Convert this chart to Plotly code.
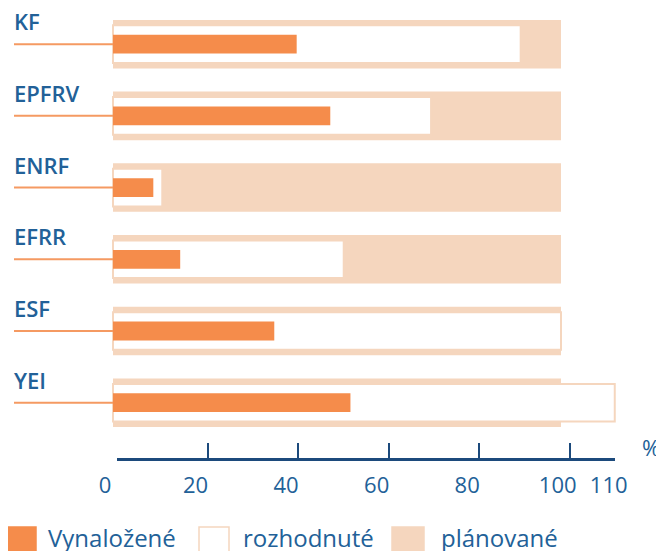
import plotly.graph_objects as go

categories = ["KF", "EPFRV", "ENRF", "EFRR", "ESF", "YEI"]
planovane = [100, 100, 100, 100, 100, 100]
rozhodnute = [91, 71, 11, 51.5, 100, 112]
vynalozene = [41, 48.5, 9, 15, 36, 53]
tick_marks = [20, 40, 60, 80, 100, 110]
tick_labels = [0, 20, 40, 60, 80, 100, 110]
tick_texts = ["0", "20", "40", "60", "80", "100", "\u00a0\u00a0110"]
legend_names = ["Vynaložené", "rozhodnuté", "plánované"]

OFF = 8  # page offset of the figure inside the browser
W, H = 664 - OFF, 551 - OFF
ORANGE = "#F58C4B"
PEACH = "#F5D6BE"
BLUE = "#226198"
AXIS = "#1C4A7C"
FONT = "Open Sans"

def px_x(p):
    return (p - OFF) / W

def px_y(p):
    return 1 - (p - OFF) / H

fig = go.Figure()
fig.add_bar(y=categories, x=planovane, orientation="h", width=0.677,
            marker=dict(color=PEACH, line=dict(width=0)), name=legend_names[2],
            showlegend=False, hoverinfo="skip")
fig.add_bar(y=categories, x=rozhodnute, orientation="h", width=0.525,
            marker=dict(color="white", line=dict(color=PEACH, width=2)), name=legend_names[1],
            showlegend=False, hoverinfo="skip")
fig.add_bar(y=categories, x=vynalozene, orientation="h", width=0.262,
            marker=dict(color=ORANGE, line=dict(width=0)), name=legend_names[0],
            showlegend=False, hoverinfo="skip")

# bar axis: 0 at px 113, 100 at px 561
x_left_px, x_right_px = 100, 640
scale = (561 - 113) / 100
r0 = (x_left_px - 113) / scale
r1 = (x_right_px - 113) / scale

y_top, y_bot = 8.3, 442.7

shapes = []
annotations = []
for c in categories:
    shapes.append(dict(type="line", xref="paper", yref="y", x0=px_x(14), x1=px_x(113),
                       y0=c, y1=c, line=dict(color="#F59A62", width=2), layer="above"))
    annotations.append(dict(xref="paper", yref="y", x=px_x(12), y=c, text=c, showarrow=False,
                            xanchor="left", yanchor="middle", yshift=23,
                            font=dict(family=FONT, size=22, color=BLUE, weight=600)))

annotations.append(dict(xref="paper", yref="paper", x=px_x(640), y=px_y(447), text="%",
                        showarrow=False, xanchor="left", yanchor="middle",
                        font=dict(family=FONT, size=22, color=BLUE)))

legend_items = [
    (legend_names[0], 7, 36, 46, ORANGE, ORANGE),
    (legend_names[1], 199, 229, 241, "white", PEACH),
    (legend_names[2], 392, 424, 439, PEACH, PEACH),
]
for name, sx0, sx1, tx, fill, line in legend_items:
    shapes.append(dict(type="rect", xref="paper", yref="paper", x0=px_x(sx0), x1=px_x(sx1),
                       y0=px_y(565), y1=px_y(527), fillcolor=fill,
                       line=dict(color=line, width=1.5)))
    annotations.append(dict(xref="paper", yref="paper", x=px_x(tx), y=px_y(537), text=name,
                            showarrow=False, xanchor="left", yanchor="middle",
                            font=dict(family=FONT, size=24, color=BLUE)))

axis_y = px_y(458)
fig.update_layout(
    width=W, height=H,
    margin=dict(l=0, r=0, t=0, b=0, pad=0, autoexpand=False),
    paper_bgcolor="white", plot_bgcolor="rgba(0,0,0,0)",
    barmode="overlay",
    showlegend=False,
    xaxis=dict(domain=[px_x(x_left_px), px_x(x_right_px)], range=[r0, r1],
               visible=False, automargin=False, anchor="y"),
    yaxis=dict(domain=[px_y(y_bot), px_y(y_top)], type="category",
               categoryorder="array", categoryarray=categories,
               autorange="reversed", visible=False, automargin=False, anchor="x"),
    xaxis2=dict(domain=[px_x(117), px_x(615)], range=[0, 110], anchor="y2",
                side="bottom", automargin=False,
                showline=True, linecolor=AXIS, linewidth=2.5,
                ticks="inside", ticklen=15, tickwidth=2, tickcolor=AXIS,
                tickvals=tick_marks, showticklabels=False,
                showgrid=False, zeroline=False),
    yaxis2=dict(domain=[axis_y, axis_y + 0.05], range=[0, 1], visible=False,
                automargin=False, anchor="x2"),
    xaxis3=dict(domain=[px_x(117), px_x(615)], range=[0, 110], anchor="y3",
                side="bottom", automargin=False,
                showline=False, ticks="", tickvals=tick_labels,
                ticktext=tick_texts, tickangle=0,
                ticklabelshift=-12, ticklabelstandoff=12,
                tickfont=dict(family=FONT, size=22, color=BLUE),
                showgrid=False, zeroline=False),
    yaxis3=dict(domain=[axis_y, axis_y + 0.05], range=[0, 1], visible=False,
                automargin=False, anchor="x3"),
    shapes=shapes,
    annotations=annotations,
)

fig.add_scatter(x=[None], y=[None], xaxis="x2", yaxis="y2", showlegend=False, hoverinfo="skip")
fig.add_scatter(x=[None], y=[None], xaxis="x3", yaxis="y3", showlegend=False, hoverinfo="skip")

fig.write_html("out.html")
